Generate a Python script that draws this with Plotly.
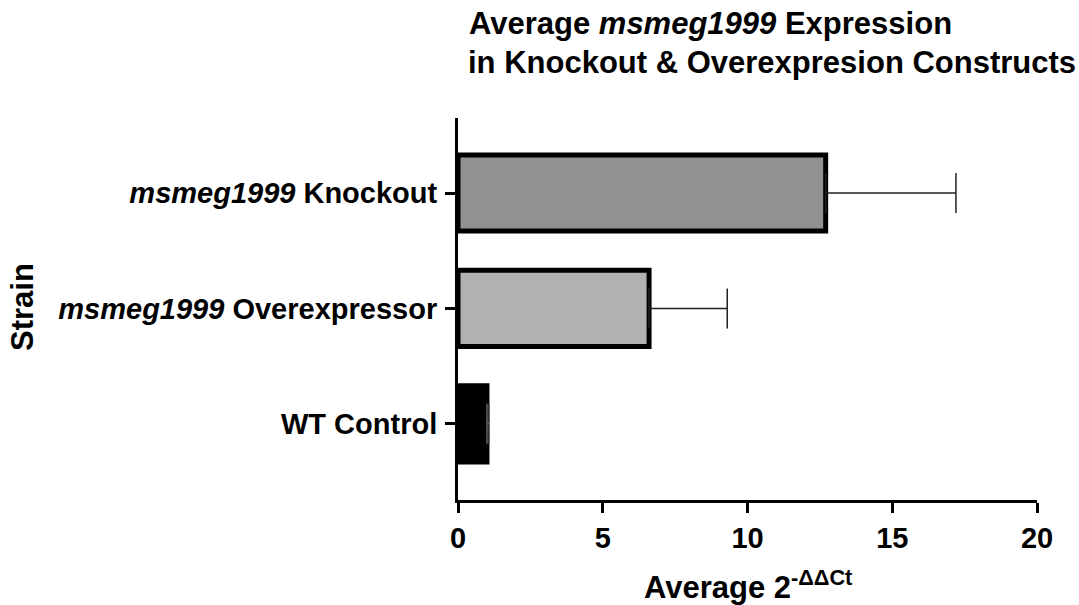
import plotly.graph_objects as go

categories = ["WT Control", "msmeg1999 Overexpressor", "msmeg1999 Knockout"]
tick_labels = ["WT Control", "<i>msmeg1999</i> Overexpressor", "<i>msmeg1999</i> Knockout"]
means = [1.0, 6.6, 12.7]
errors = [0.08, 2.7, 4.5]
fills = ["#000000", "#b1b1b1", "#919191"]
err_colors = ["#666666", "#222222", "#222222"]
x_ticks = [0, 5, 10, 15, 20]

FONT = "Liberation Sans"

fig = go.Figure()
for i, cat in enumerate(categories):
    fig.add_trace(go.Bar(
        x=[means[i]], y=[cat], orientation="h", width=0.66,
        marker=dict(color=fills[i], line=dict(color="black", width=5)),
        error_x=dict(type="data", symmetric=False, array=[errors[i]], arrayminus=[0],
                     color=err_colors[i], thickness=1.5, width=20),
        showlegend=False,
    ))

W, H = 1079, 605
L, R, T, B = 458, 1037, 118, 500

fig.update_layout(
    width=W, height=H,
    margin=dict(l=L, r=W - R, t=T, b=H - B, pad=0),
    plot_bgcolor="white", paper_bgcolor="white",
    font=dict(family=FONT, color="black"),
)
fig.update_xaxes(
    range=[0, 20], tickvals=x_ticks, ticktext=[str(v) for v in x_ticks],
    showgrid=False, zeroline=False,
    showline=True, linecolor="black", linewidth=3,
    ticks="outside", ticklen=10, tickwidth=3, tickcolor="black",
    tickfont=dict(family=FONT, size=29, weight="bold", color="black"),
    ticklabelstandoff=0,
)
fig.update_yaxes(
    type="category", categoryorder="array", categoryarray=categories,
    tickvals=categories, ticktext=tick_labels,
    range=[-0.66, 2.65],
    showgrid=False, zeroline=False,
    showline=True, linecolor="black", linewidth=3,
    ticks="outside", ticklen=10, tickwidth=3, tickcolor="black",
    tickfont=dict(family=FONT, size=29, weight="bold", color="black"),
    ticklabelstandoff=2,
)

pw, ph = R - L, B - T
def px_x(x):
    return (x - L) / pw
def px_y(y):
    return (B - y) / ph

title_font = dict(family=FONT, size=31, weight="bold", color="black")
fig.add_annotation(text="Average <i>msmeg1999</i> Expression", xref="paper", yref="paper",
                   x=px_x(467), y=px_y(23), xanchor="left", yanchor="middle", showarrow=False,
                   font=title_font)
fig.add_annotation(text="in Knockout &amp; Overexpresion Constructs", xref="paper", yref="paper",
                   x=px_x(466), y=px_y(62), xanchor="left", yanchor="middle", showarrow=False,
                   font=title_font)
fig.add_annotation(text="Strain", xref="paper", yref="paper",
                   x=px_x(22), y=px_y(307), xanchor="center", yanchor="middle", showarrow=False,
                   textangle=-90,
                   font=dict(family=FONT, size=31, weight="bold", color="black"))
fig.add_annotation(text="Average 2<sup>-ΔΔCt</sup>", xref="paper", yref="paper",
                   x=px_x(748), y=px_y(585), xanchor="center", yanchor="middle", showarrow=False,
                   font=dict(family=FONT, size=31, weight="bold", color="black"))

fig.write_html("out.html", config={"displayModeBar": False},
               post_script="document.body.style.margin='0';")
